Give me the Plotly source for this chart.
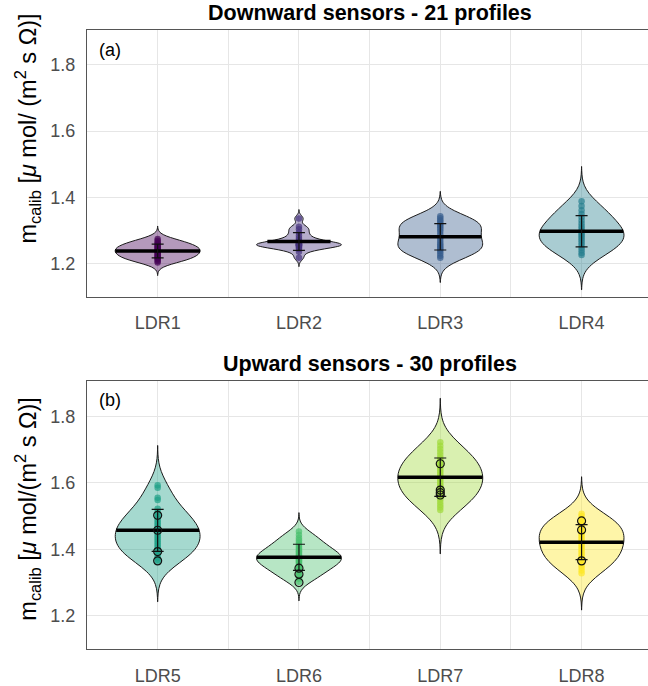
import numpy as np
import plotly.graph_objects as go

# Sensor names per panel
sensors_down = ["LDR1", "LDR2", "LDR3", "LDR4"]
sensors_up = ["LDR5", "LDR6", "LDR7", "LDR8"]

# Calibration slopes per profile, downward sensors (21 profiles)
ldr1 = [1.203, 1.208, 1.212, 1.216, 1.219, 1.222, 1.225, 1.229, 1.232, 1.236, 1.238,
        1.241, 1.244, 1.247, 1.250, 1.253, 1.256, 1.260, 1.264, 1.269, 1.274]
ldr2 = [1.218, 1.236, 1.244, 1.248, 1.251, 1.253, 1.255, 1.256, 1.257, 1.258, 1.259,
        1.261, 1.263, 1.266, 1.271, 1.277, 1.285, 1.294, 1.304, 1.311, 1.336]
ldr3 = [1.218, 1.224, 1.231, 1.238, 1.243, 1.248, 1.253, 1.258, 1.264, 1.271, 1.279,
        1.288, 1.297, 1.304, 1.310, 1.315, 1.320, 1.326, 1.331, 1.337, 1.343]
ldr4 = [1.226, 1.232, 1.240, 1.248, 1.256, 1.263, 1.270, 1.276, 1.282, 1.287, 1.292,
        1.298, 1.305, 1.313, 1.321, 1.330, 1.340, 1.350, 1.361, 1.374, 1.388]

# Calibration slopes per profile, upward sensors (30 profiles)
ldr5 = [1.362, 1.368, 1.374, 1.381, 1.388, 1.394, 1.400, 1.406, 1.412, 1.418,
        1.424, 1.430, 1.436, 1.442, 1.448, 1.454, 1.460, 1.466, 1.472, 1.478,
        1.484, 1.490, 1.497, 1.504, 1.512, 1.522, 1.548, 1.555, 1.585, 1.592]
ldr6 = [1.302, 1.311, 1.319, 1.326, 1.332, 1.338, 1.343, 1.348, 1.352, 1.356,
        1.360, 1.364, 1.367, 1.370, 1.373, 1.376, 1.379, 1.382, 1.386, 1.390,
        1.394, 1.398, 1.403, 1.408, 1.414, 1.420, 1.427, 1.434, 1.443, 1.453]
ldr7 = [1.518, 1.526, 1.534, 1.542, 1.550, 1.557, 1.564, 1.571, 1.577, 1.583,
        1.589, 1.595, 1.601, 1.607, 1.613, 1.619, 1.625, 1.631, 1.637, 1.643,
        1.649, 1.655, 1.661, 1.668, 1.675, 1.683, 1.692, 1.701, 1.711, 1.722]
ldr8 = [1.328, 1.336, 1.344, 1.352, 1.359, 1.366, 1.372, 1.378, 1.384, 1.390,
        1.396, 1.402, 1.408, 1.414, 1.420, 1.426, 1.432, 1.438, 1.444, 1.450,
        1.456, 1.461, 1.466, 1.471, 1.476, 1.481, 1.487, 1.493, 1.500, 1.507]

# Highlighted profiles (open circles), upward sensors
ldr5_marked = [1.502, 1.457, 1.393, 1.365]
ldr6_marked = [1.343, 1.325, 1.300]
ldr7_marked = [1.657, 1.578, 1.570, 1.563]
ldr8_marked = [1.485, 1.458, 1.365]

# Kernel bandwidths of the density estimates
bw_down = [0.013, 0.009, 0.025, 0.035]
bw_up = [0.040, 0.019, 0.044, 0.037]

down_values = [ldr1, ldr2, ldr3, ldr4]
up_values = [ldr5, ldr6, ldr7, ldr8]
up_marked = [ldr5_marked, ldr6_marked, ldr7_marked, ldr8_marked]

y_ticks = [1.2, 1.4, 1.6, 1.8]

viridis8 = ["#440154", "#46337E", "#365C8D", "#277F8E",
            "#1FA187", "#4AC16D", "#9FDA3A", "#FDE725"]

VIOLIN_WIDTH = 0.6


def rgba(hex_color, alpha):
    h = hex_color.lstrip("#")
    r, g, b = int(h[0:2], 16), int(h[2:4], 16), int(h[4:6], 16)
    return f"rgba({r},{g},{b},{alpha})"


def kde(arr, bw, pts):
    # Gaussian kernel density, same form as the violin outline
    z = (pts[:, None] - arr[None, :]) / bw
    return np.exp(-0.5 * z ** 2).sum(axis=1)


fig = go.Figure()


def add_panel(values, bws, colors, xa, ya, marked=None):
    for i, (vals, bw, col) in enumerate(zip(values, bws, colors)):
        arr = np.asarray(vals)
        lo, hi = arr.min() - 3 * bw, arr.max() + 3 * bw
        fig.add_trace(go.Violin(
            y=arr, x0=i, xaxis=xa, yaxis=ya,
            width=VIOLIN_WIDTH, bandwidth=bw, spanmode="manual", span=[lo, hi],
            fillcolor=rgba(col, 0.4),
            line=dict(color="#1a1a1a", width=1),
            box=dict(visible=False), meanline=dict(visible=False),
            points="all", pointpos=0, jitter=0,
            marker=dict(color=col, size=6.5, opacity=0.7, line=dict(width=0)),
            showlegend=False, hoverinfo="skip",
        ))
        # solid mean bar across the violin at the sample mean
        grid_pts = np.linspace(lo, hi, 400)
        dens = kde(arr, bw, grid_pts)
        m = arr.mean()
        half = VIOLIN_WIDTH / 2 * kde(arr, bw, np.array([m]))[0] / dens.max()
        fig.add_trace(go.Scatter(
            x=[i - half, i + half], y=[m, m], xaxis=xa, yaxis=ya, mode="lines",
            line=dict(color="black", width=3.5),
            showlegend=False, hoverinfo="skip",
        ))
        fig.add_trace(go.Scatter(
            x=[i], y=[m], xaxis=xa, yaxis=ya, mode="markers",
            marker=dict(size=1, color="rgba(0,0,0,0)"),
            error_y=dict(type="data", array=[arr.std(ddof=1)], color="#111111",
                         thickness=1.2, width=6),
            showlegend=False, hoverinfo="skip",
        ))
        if marked is not None:
            fig.add_trace(go.Scatter(
                x=[i] * len(marked[i]), y=marked[i], xaxis=xa, yaxis=ya,
                mode="markers",
                marker=dict(symbol="circle-open", size=8, color="#111111",
                            line=dict(width=1.2)),
                showlegend=False, hoverinfo="skip",
            ))


add_panel(down_values, bw_down, viridis8[:4], "x", "y")
add_panel(up_values, bw_up, viridis8[4:], "x2", "y2", marked=up_marked)

FONT = "Liberation Sans, Arial, sans-serif"
grid = "#e6e6e6"
frame = "#555555"

xcommon = dict(
    range=[-0.5, 3.47], tickmode="array", tickvals=[0, 1, 2, 3],
    showgrid=True, gridcolor=grid, gridwidth=1,
    minor=dict(tickvals=[0.5, 1.5, 2.5], showgrid=True, gridcolor=grid, gridwidth=1),
    showline=True, linecolor=frame, linewidth=1, mirror=True,
    zeroline=False, ticks="", ticklabelstandoff=10,
    tickfont=dict(family=FONT, size=18, color="#4d4d4d"),
)
ycommon = dict(
    range=[1.1, 1.905], tickmode="array", tickvals=y_ticks,
    ticktext=[f"{v:.1f}" for v in y_ticks],
    showgrid=True, gridcolor=grid, gridwidth=1,
    showline=True, linecolor=frame, linewidth=1,
    zeroline=False, ticks="", ticklabelstandoff=7,
    tickfont=dict(family=FONT, size=18, color="#4d4d4d"),
)

fig.update_layout(
    width=648, height=686,
    margin=dict(l=87, r=0, t=30, b=34),
    paper_bgcolor="white", plot_bgcolor="white",
    xaxis=dict(**xcommon, anchor="y", domain=[0, 1], ticktext=sensors_down),
    yaxis=dict(**ycommon, anchor="x", domain=[0.5691, 1]),
    xaxis2=dict(**xcommon, anchor="y2", domain=[0, 1], ticktext=sensors_up),
    yaxis2=dict(**ycommon, anchor="x2", domain=[0, 0.4325]),
    font=dict(family=FONT, color="black"),
)

ytitle_down = "m<sub>calib</sub> [<i>μ</i> mol/ (m<sup>2</sup> s Ω)]"
ytitle_up = "m<sub>calib</sub> [<i>μ</i> mol/(m<sup>2</sup> s Ω)]"

annotations = [
    dict(text="<b>Downward sensors - 21 profiles</b>", x=1.5, xref="x",
         y=1, yref="y domain", yanchor="bottom", yshift=3, showarrow=False,
         font=dict(family=FONT, size=21.5, color="black")),
    dict(text="<b>Upward sensors - 30 profiles</b>", x=1.5, xref="x2",
         y=1, yref="y2 domain", yanchor="bottom", yshift=3, showarrow=False,
         font=dict(family=FONT, size=21.5, color="black")),
    dict(text="(a)", x=0.018, xref="x domain", y=0.924, yref="y domain",
         xanchor="left", yanchor="middle", showarrow=False,
         font=dict(family=FONT, size=18, color="black")),
    dict(text="(b)", x=0.018, xref="x2 domain", y=0.929, yref="y2 domain",
         xanchor="left", yanchor="middle", showarrow=False,
         font=dict(family=FONT, size=18, color="black")),
    dict(text=ytitle_down, textangle=-90, x=(28 - 87) / 561, xref="paper",
         y=(652 - 129) / 622, yref="paper", xanchor="center", yanchor="middle",
         showarrow=False, font=dict(family=FONT, size=23.5, color="black")),
    dict(text=ytitle_up, textangle=-90, x=(28 - 87) / 561, xref="paper",
         y=(652 - 511) / 622, yref="paper", xanchor="center", yanchor="middle",
         showarrow=False, font=dict(family=FONT, size=23.5, color="black")),
]
fig.update_layout(annotations=annotations)

fig.write_html("out.html")
